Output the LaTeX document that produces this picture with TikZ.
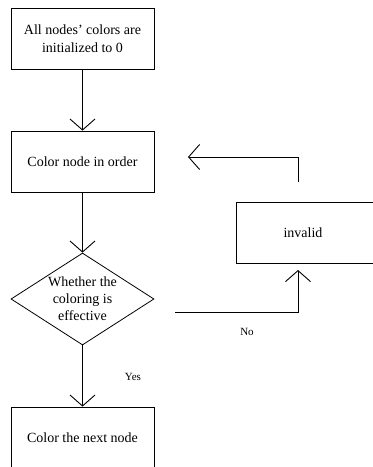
\documentclass[tikz,border=0pt]{standalone}
\usepackage{fontspec}
\setmainfont{Liberation Serif}
\usetikzlibrary{arrows.meta,shapes.geometric}
\begin{document}
\begin{tikzpicture}[x=1pt,y=-1pt,
  box/.style={draw,line width=0.8pt,minimum width=143pt,minimum height=61pt,inner sep=0pt,align=center,font=\fontsize{14}{18}\selectfont},
  dia/.style={draw,diamond,line width=0.8pt,minimum width=143pt,minimum height=92pt,inner sep=0pt},
  diatext/.style={inner sep=0pt,align=center,font=\fontsize{14}{17}\selectfont},
  conn/.style={line width=0.9pt,-{Straight Barb[length=11pt,width=25pt,line width=0.9pt]}},
  lbl/.style={font=\fontsize{11}{12}\selectfont}]
\useasboundingbox (0,0) rectangle (373,467);
\node[box] (init) at (82.5,38.5) {All nodes' colors are\\initialized to 0};
\node[box] (order) at (82.5,161.5) {Color node in order};
\node[dia] (check) at (82.5,299) {};
\node[diatext] (checktext) at (82.5,299) {Whether the\\coloring is\\effective};
\node[box] (next) at (82.5,437.5) {Color the next node};
\node[box] (invalid) at (307.5,232.5) {\hspace*{-9pt}invalid};
\coordinate (nostart) at (175,312);
\coordinate (nobend) at (298,312);
\coordinate (nend) at (298,270);
\coordinate (fbstart) at (298,182);
\coordinate (fbbend) at (298,157);
\coordinate (fbend) at (188,157);
\draw[conn] (init) -- (order);
\draw[conn] (order) -- (check);
\draw[conn] (check) -- (next);
\draw[conn] (nostart) -- (nobend) -- (nend);
\draw[conn] (fbstart) -- (fbbend) -- (fbend);
\node[lbl] (yes) at (133,377) {Yes};
\node[lbl] (no) at (247,332) {No};
\end{tikzpicture}
\end{document}
